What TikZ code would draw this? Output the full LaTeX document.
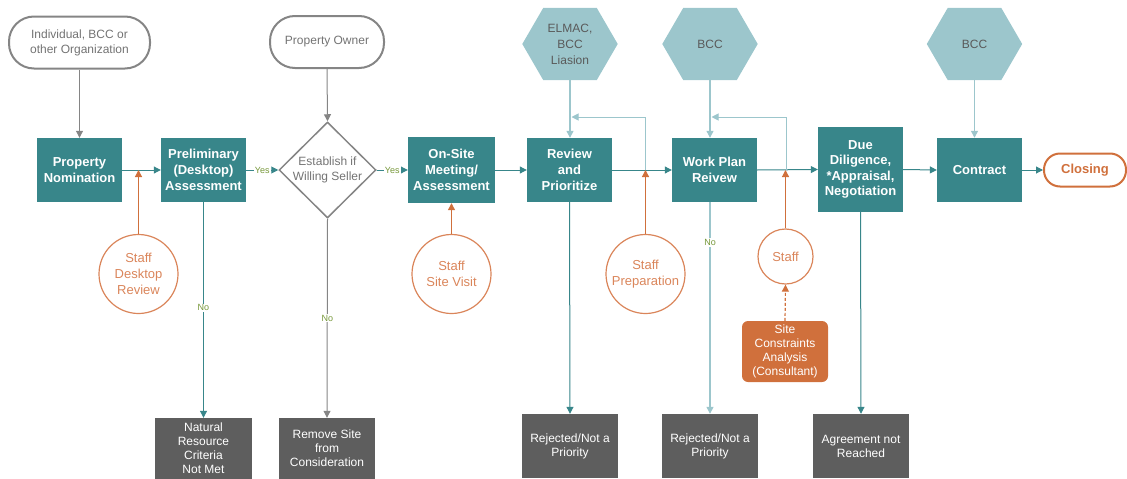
\documentclass[tikz,border=0pt]{standalone}
\usepackage{fontspec}
\setmainfont{Liberation Sans}
\usetikzlibrary{arrows.meta,shapes.geometric,calc,backgrounds}
\definecolor{teal1}{HTML}{38868A}
\definecolor{lteal}{HTML}{9CC6CC}
\definecolor{orng}{HTML}{D0703C}
\definecolor{orngl}{HTML}{DA855A}
\definecolor{dgray}{HTML}{5E5E5E}
\definecolor{mgray}{HTML}{858585}
\definecolor{tgray}{HTML}{737373}
\definecolor{hgray}{HTML}{5A5A5A}
\definecolor{ygreen}{HTML}{77983A}
\tikzset{
  proc/.style={fill=teal1, text=white, font=\fontsize{13}{16}\selectfont\bfseries, align=center, inner sep=0pt, minimum width=85pt, minimum height=64pt},
  endbox/.style={fill=dgray, text=white, font=\fontsize{12}{14}\selectfont, align=center, inner sep=0pt, minimum width=96pt, minimum height=64pt},
  source/.style={draw=mgray, line width=2pt, text=tgray, font=\fontsize{12}{15}\selectfont, align=center, inner sep=0pt, rounded corners=25pt, minimum height=52pt},
  hexnode/.style={text=hgray, font=\fontsize{12}{16}\selectfont, align=center, inner sep=0pt, minimum width=95pt, minimum height=72pt},
  staffc/.style={circle, draw=orngl, line width=1.2pt, text=orngl, font=\fontsize{13}{16}\selectfont, align=center, inner sep=0pt, minimum size=79pt},
  tip/.style={-{Triangle[width=7pt,length=7pt]}},
  tealarrow/.style={tip, draw=teal1, line width=1pt},
  ltarrow/.style={tip, draw=lteal, line width=1.2pt},
  grayarrow/.style={tip, draw=mgray, line width=1pt},
  orarrow/.style={tip, draw=orng, line width=1.2pt},
  yn/.style={font=\fontsize{9}{10}\selectfont, text=ygreen, fill=white, inner sep=1pt}
}
\begin{document}
\begin{tikzpicture}[x=1pt,y=-1pt]
\useasboundingbox (0,0) rectangle (1127,479);

% sources
\node[source, minimum width=141pt] (ind) at (79.5,42.5) {Individual, BCC or\\other Organization};
\node[source, minimum width=114pt] (po) at (327,42) {Property Owner};

% hexagons
\node[hexnode] (h1) at (570,44) {ELMAC,\\BCC\\Liasion};
\node[hexnode] (h2) at (710,44) {BCC};
\node[hexnode] (h3) at (974.5,44) {BCC};
\begin{scope}[on background layer]
\foreach \h in {h1,h2,h3}{
  \fill[lteal] (\h.west) -- ($(\h.north west)+(21,0)$) -- ($(\h.north east)+(-21,0)$) -- (\h.east) -- ($(\h.south east)+(-21,0)$) -- ($(\h.south west)+(21,0)$) -- cycle;
}
\end{scope}

% process boxes
\node[proc] (pn) at (79.5,170) {Property\\Nomination};
\node[proc] (pa) at (203.5,170) {Preliminary\\(Desktop)\\Assessment};
\node[diamond, draw=mgray, line width=1.5pt, inner sep=0pt, minimum width=97pt, minimum height=96pt,
  label={[text=tgray, font=\fontsize{12}{15}\selectfont, align=center]center:Establish if\\Willing Seller}] (dia) at (327.5,170) {};
\node[proc, minimum width=87pt, minimum height=66pt] (os) at (451.5,170) {On-Site\\Meeting/\\Assessment};
\node[proc] (rp) at (569.5,170) {Review\\and\\Prioritize};
\node[proc] (wp) at (714.5,170) {Work Plan\\Reivew};
\node[proc, minimum height=85pt, font=\fontsize{13}{15.5}\selectfont\bfseries] (dd) at (860.5,169.5) {Due\\Diligence,\\*Appraisal,\\Negotiation};
\node[proc] (ct) at (979.5,170) {Contract};
\node[draw=orng, line width=2pt, rounded corners=16pt, minimum width=82pt, minimum height=33pt, inner sep=0pt,
  text=orng, font=\fontsize{13}{16}\selectfont\bfseries] (cl) at (1085,170) {Closing};

% staff circles
\node[staffc] (sd) at (138.5,274) {Staff\\Desktop\\Review};
\node[staffc] (sv) at (451.5,274) {Staff\\Site Visit};
\node[staffc] (sp) at (645.5,274) {Staff\\Preparation};
\node[staffc, minimum size=55pt] (st) at (785.5,256.5) {Staff};
\node[fill=orng, rounded corners=6pt, text=white, font=\fontsize{12}{14}\selectfont, align=center, inner sep=0pt,
  minimum width=86pt, minimum height=61pt] (sc) at (785,351.5) {Site\\Constraints\\Analysis\\(Consultant)};

% end boxes
\node[endbox, minimum width=97pt, minimum height=61pt] (nr) at (203.5,448.5) {Natural\\Resource\\Criteria\\Not Met};
\node[endbox, minimum width=96pt, minimum height=61pt] (rs) at (327,448.5) {Remove Site\\from\\Consideration};
\node[endbox] (rj1) at (570,446) {Rejected/Not a\\Priority};
\node[endbox] (rj2) at (710,446) {Rejected/Not a\\Priority};
\node[endbox] (an) at (861,446) {Agreement not\\Reached};

% source arrows
\draw[grayarrow] (ind.south) -- (pn.north);
\draw[grayarrow] (po.south) -- (dia.north);

% main flow
\draw[tealarrow] (pn.east) -- (pa.west);
\draw[tealarrow] (pa.east) -- node[yn]{Yes} (dia.west);
\draw[tealarrow] (dia.east) -- node[yn]{Yes} (os.west);
\draw[tealarrow] (os.east) -- (rp.west);
\draw[tealarrow] (rp.east) -- (wp.west);
\draw[tealarrow] (wp.east) -- (dd.west);
\draw[tealarrow] (dd.east) -- (ct.west);
\draw[tealarrow] (ct.east) -- (cl.west);

% hexagon inputs
\draw[ltarrow] (h1.south) -- (h1.south |- rp.north);
\draw[ltarrow] (h2.south) -- (h2.south |- wp.north);
\draw[ltarrow] (h3.south) -- (h3.south |- ct.north);

% feedback loops
\coordinate (f1a) at (645.5,170);
\coordinate (f1b) at (645.5,117);
\coordinate (f1c) at (571.5,117);
\draw[ltarrow, line width=1pt] (f1a) -- (f1b) -- (f1c);
\coordinate (f2a) at (786,170);
\coordinate (f2b) at (786,117);
\coordinate (f2c) at (711.5,117);
\draw[ltarrow, line width=1pt] (f2a) -- (f2b) -- (f2c);

% staff arrows
\draw[orarrow] (sd.north) -- (sd.north |- pn.east);
\draw[orarrow] (sv.north) -- (os.south);
\draw[orarrow] (sp.north) -- (sp.north |- rp.east);
\draw[orarrow] (st.north) -- (st.north |- wp.east);
\draw[orarrow, densely dashed] (sc.north) -- (st.south);

% rejection paths
\draw[tealarrow] (pa.south) -- node[yn, pos=0.49]{No} (nr.north);
\draw[grayarrow] (dia.south) -- node[yn, pos=0.5]{No} (rs.north);
\draw[tealarrow] (rp.south) -- (rj1.north);
\draw[ltarrow] (rj2.north |- wp.south) -- node[yn, pos=0.19]{No} (rj2.north);
\draw[tealarrow] (dd.south) -- (an.north);
\end{tikzpicture}
\end{document}
